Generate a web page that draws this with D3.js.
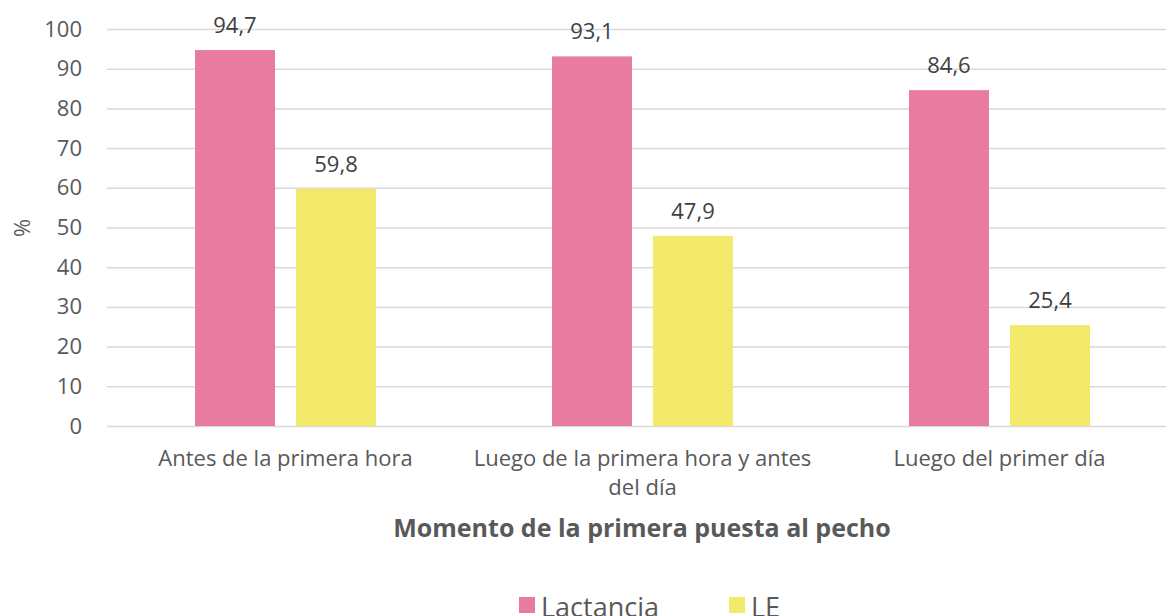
<!DOCTYPE html>
<html>
<head>
<meta charset="utf-8">
<script src="https://cdn.jsdelivr.net/npm/d3@7"></script>
<style>
  body { margin: 0; background: #fff; }
  text { font-family: "Open Sans", sans-serif; }
</style>
</head>
<body>
<div id="chart"></div>
<script>
// données
const momentos = ["Antes de la primera hora", "Luego de la primera hora y antes del día", "Luego del primer día"]
const series = ["Lactancia", "LE"]
const lactancia = [94.7, 93.1, 84.6]
const le = [59.8, 47.9, 25.4]
const yTicks = [0, 10, 20, 30, 40, 50, 60, 70, 80, 90, 100]
const couleurs = ["#E97AA0", "#F3E96B"]

const width = 1166, height = 616
const margin = { top: 29, left: 107, bottom: 190 }
const plotRight = 1178

const svg = d3.select("#chart").append("svg")
    .attr("width", width)
    .attr("height", height)

const x = d3.scaleBand()
    .domain(momentos)
    .range([margin.left, plotRight])

const xSub = d3.scaleBand()
    .domain(series)
    .range([88, 269])
    .paddingInner(0.208)

const y = d3.scaleLinear()
    .domain([0, 100])
    .range([426, margin.top])

// grille + axe Y
const yAxis = svg.append("g")
    .attr("transform", "translate(" + margin.left + ",0)")
    .call(d3.axisLeft(y).tickValues(yTicks).tickSize(-(plotRight - margin.left)).tickPadding(25))
yAxis.select(".domain").remove()
yAxis.selectAll(".tick line").attr("stroke", "#D9D9D9").attr("stroke-width", 1.5)
yAxis.selectAll(".tick text")
    .attr("fill", "#595959")
    .style("font-size", "22px")

// axe X
const xAxis = svg.append("g")
    .attr("transform", "translate(0," + y(0) + ")")
    .call(d3.axisBottom(x).tickSize(0).tickPadding(24))
xAxis.select(".domain").remove()
xAxis.selectAll(".tick text")
    .attr("fill", "#595959")
    .style("font-size", "22px")
    .call(wrap, 350)

function wrap(texts, maxWidth) {
    texts.each(function () {
        const text = d3.select(this)
        const words = text.text().split(/\s+/)
        const yPos = text.attr("y")
        text.text(null)
        let line = []
        let lineNo = 0
        let tspan = text.append("tspan").attr("x", 0).attr("y", yPos).attr("dy", "0.71em")
        for (const w of words) {
            line.push(w)
            tspan.text(line.join(" "))
            if (tspan.node().getComputedTextLength() > maxWidth && line.length > 1) {
                line.pop()
                tspan.text(line.join(" "))
                line = [w]
                lineNo++
                tspan = text.append("tspan").attr("x", 0).attr("y", yPos)
                    .attr("dy", (0.71 + lineNo * 1.35) + "em").text(w)
            }
        }
    })
}

// barres
const data = momentos.map((m, i) => ({ moment: m, values: [lactancia[i], le[i]] }))

const groupes = svg.selectAll(".groupe")
    .data(data)
    .enter()
    .append("g")
    .attr("transform", d => "translate(" + x(d.moment) + ",0)")

groupes.selectAll("rect")
    .data(d => d.values.map((v, j) => ({ serie: series[j], v: v })))
    .enter()
    .append("rect")
    .attr("x", d => xSub(d.serie))
    .attr("y", d => y(d.v))
    .attr("width", xSub.bandwidth())
    .attr("height", d => y(0) - y(d.v))
    .attr("fill", (d, j) => couleurs[j])

groupes.selectAll(".label")
    .data(d => d.values.map((v, j) => ({ serie: series[j], v: v })))
    .enter()
    .append("text")
    .attr("x", d => xSub(d.serie) + xSub.bandwidth() / 2)
    .attr("y", d => y(d.v) - 17)
    .attr("text-anchor", "middle")
    .attr("fill", "#404040")
    .style("font-size", "22px")
    .text(d => d3.format(".1f")(d.v).replace(".", ","))

// titres
svg.append("text")
    .attr("x", 642)
    .attr("y", 537)
    .attr("text-anchor", "middle")
    .attr("fill", "#595959")
    .style("font-size", "25px")
    .style("font-weight", "bold")
    .text("Momento de la primera puesta al pecho")

svg.append("text")
    .attr("transform", "translate(30,228) rotate(-90)")
    .attr("text-anchor", "middle")
    .attr("fill", "#595959")
    .style("font-size", "22px")
    .text("%")

// légende
const legendX = [519, 729]
const legende = svg.selectAll(".legende")
    .data(series)
    .enter()
    .append("g")
    .attr("transform", (d, i) => "translate(" + legendX[i] + ",597)")
legende.append("rect")
    .attr("width", 16)
    .attr("height", 16)
    .attr("fill", (d, i) => couleurs[i])
legende.append("text")
    .attr("x", 22)
    .attr("y", 20)
    .attr("fill", "#595959")
    .style("font-size", "27px")
    .text(d => d)
</script>
</body>
</html>
